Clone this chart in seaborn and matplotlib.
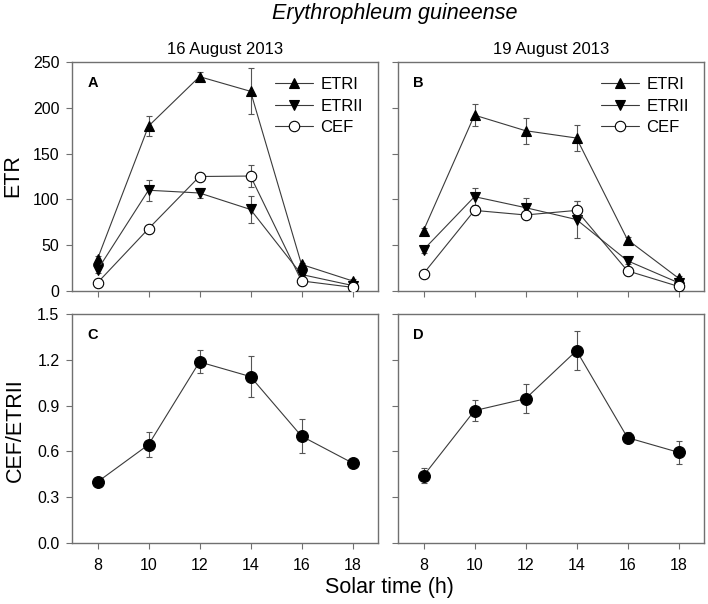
import numpy as np
import pandas as pd
import matplotlib
matplotlib.use("Agg")
import matplotlib.pyplot as plt
import seaborn as sns

hours = [8, 10, 12, 14, 16, 18]

# panel A - 16 August 2013
etr1_a = [35, 180, 234, 218, 29, 11]
etr1_a_err = [3, 11, 5, 25, 2, 2]
etr2_a = [23, 110, 107, 89, 18, 6]
etr2_a_err = [3, 11.5, 5, 15, 2, 1]
cef_a = [9, 68, 125, 125.5, 11, 4]
cef_a_err = [1, 3, 4, 12, 2, 1]

# panel B - 19 August 2013
etr1_b = [66, 192, 175, 167, 56, 14]
etr1_b_err = [3, 12, 14, 14, 3, 2]
etr2_b = [45, 103, 91, 78, 33, 9]
etr2_b_err = [3, 9, 11, 20, 3, 1]
cef_b = [19, 88, 83, 88, 22, 5]
cef_b_err = [2, 5, 4, 10, 2, 1]

# panels C/D - CEF/ETRII
ratio_c = [0.40, 0.644, 1.186, 1.09, 0.70, 0.524]
ratio_c_err = [0.02, 0.08, 0.075, 0.133, 0.112, 0.03]
ratio_d = [0.44, 0.867, 0.945, 1.26, 0.69, 0.594]
ratio_d_err = [0.05, 0.07, 0.094, 0.13, 0.037, 0.077]

sns.set_style("ticks")
plt.rcParams["font.family"] = ["Liberation Sans", "DejaVu Sans"]
plt.rcParams["text.color"] = "black"

fig = plt.figure(figsize=(7.08, 6.04), dpi=100)
W, H = 708, 604


def add_ax(left, top, width, height):
    return fig.add_axes([left / W, 1 - (top + height) / H, width / W, height / H])


ax_a = add_ax(72, 62, 306, 229)
ax_b = add_ax(398, 62, 306, 229)
ax_c = add_ax(72, 314, 306, 229)
ax_d = add_ax(398, 314, 306, 229)

line_kw = dict(color="#3a3a3a", linewidth=0.8, markeredgecolor="black",
               markeredgewidth=0.8, markersize=7.5)
err_kw = dict(fmt="none", ecolor="#555555", elinewidth=0.8, capsize=2.5,
              capthick=0.8, zorder=1)


def draw_etr(ax, series):
    for label, vals, errs, marker, face in series:
        ax.errorbar(hours, vals, yerr=errs, **err_kw)
        sns.lineplot(x=hours, y=vals, ax=ax, marker=marker, label=label,
                     markerfacecolor=face, zorder=3, **line_kw)
    ax.set_ylim(0, 250)
    ax.set_yticks([0, 50, 100, 150, 200, 250])
    ax.legend(loc="upper right", frameon=False, fontsize=12,
              handlelength=2.3, labelspacing=0.4, handletextpad=0.45,
              borderaxespad=0.5)


def draw_ratio(ax, vals, errs):
    ax.errorbar(hours, vals, yerr=errs, **err_kw)
    sns.lineplot(x=hours, y=vals, ax=ax, marker="o", markerfacecolor="black",
                 zorder=3, **{**line_kw, "markersize": 8.5})
    ax.set_ylim(0, 1.5)
    ax.set_yticks([0.0, 0.3, 0.6, 0.9, 1.2, 1.5])
    ax.set_yticklabels(["0.0", "0.3", "0.6", "0.9", "1.2", "1.5"])


draw_etr(ax_a, [("ETRI", etr1_a, etr1_a_err, "^", "black"),
                ("ETRII", etr2_a, etr2_a_err, "v", "black"),
                ("CEF", cef_a, cef_a_err, "o", "white")])
draw_etr(ax_b, [("ETRI", etr1_b, etr1_b_err, "^", "black"),
                ("ETRII", etr2_b, etr2_b_err, "v", "black"),
                ("CEF", cef_b, cef_b_err, "o", "white")])
draw_ratio(ax_c, ratio_c, ratio_c_err)
draw_ratio(ax_d, ratio_d, ratio_d_err)

for ax, letter in zip([ax_a, ax_b, ax_c, ax_d], "ABCD"):
    ax.set_xlim(7, 19)
    ax.set_xticks(hours)
    for sp in ax.spines.values():
        sp.set_visible(True)
        sp.set_color("#707070")
        sp.set_linewidth(1.0)
    ax.tick_params(direction="out", length=4, width=0.8, color="#707070",
                   labelsize=11.5, labelcolor="black")
    ax.tick_params(axis="x", pad=7)
    ax.tick_params(axis="y", pad=5)
    ax.set_xlabel("")
    ax.set_ylabel("")
    ax.text(0.05, 0.94, letter, transform=ax.transAxes, fontsize=10.5,
            fontweight="bold", ha="left", va="top")

for ax in [ax_a, ax_b]:
    ax.tick_params(labelbottom=False)
for ax in [ax_b, ax_d]:
    ax.tick_params(labelleft=False)

ax_a.set_title("16 August 2013", fontsize=12, pad=6)
ax_b.set_title("19 August 2013", fontsize=12, pad=6)

fig.text(395 / W, 1 - 13 / H, "Erythrophleum guineense", style="italic",
         fontsize=15.5, ha="center", va="center")
fig.text(13 / W, 1 - 176 / H, "ETR", rotation=90, fontsize=15.5,
         ha="center", va="center")
fig.text(15 / W, 1 - 430 / H, "CEF/ETRII", rotation=90, fontsize=15.5,
         ha="center", va="center")
fig.text(389 / W, 1 - 587 / H, "Solar time (h)", fontsize=15.5,
         ha="center", va="center")

fig.savefig("out.png", dpi=100)
